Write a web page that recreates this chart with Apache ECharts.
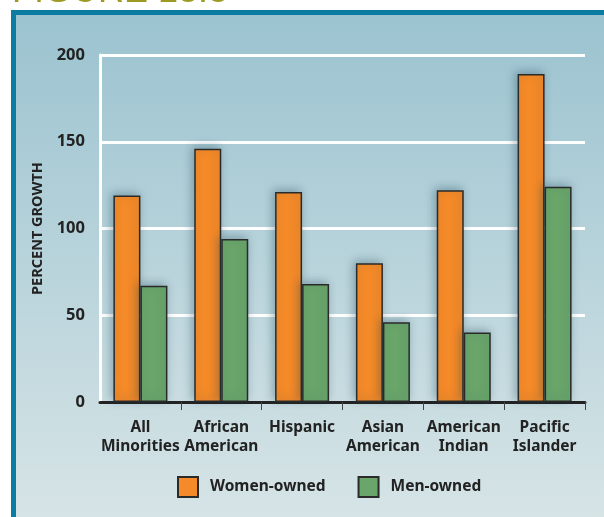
<!DOCTYPE html>
<html>
<head>
<meta charset="utf-8">
<script src="https://cdn.jsdelivr.net/npm/echarts@6/dist/echarts.min.js"></script>
<style>html,body{margin:0;padding:0;background:#fff;}#c{width:604px;height:517px;}</style>
</head>
<body>
<div id="c"></div>
<script>
const categories = ['All\nMinorities', 'African\nAmerican', 'Hispanic', 'Asian\nAmerican', 'American\nIndian', 'Pacific\nIslander'];
const womenOwned = [119, 146, 121, 80, 122, 189];
const menOwned = [67, 94, 68, 46, 40, 124];
const yTicks = { min: 0, max: 200, interval: 50 };

const chart = echarts.init(document.getElementById('c'), null, { renderer: 'canvas' });
const FONT = 'Noto Sans';
const barShadow = { shadowBlur: 10, shadowColor: 'rgba(20,60,80,0.35)', shadowOffsetX: -2, shadowOffsetY: -2 };
chart.setOption({
  animation: false,
  backgroundColor: '#ffffff',
  graphic: [
    { type: 'rect', z: -10, silent: true, shape: { x: 11, y: 15, width: 593, height: 502 },
      style: { fill: new echarts.graphic.LinearGradient(0, 0, 0, 1, [
        { offset: 0, color: '#9bc3d0' }, { offset: 1, color: '#d6e4e6' }]) } },
    { type: 'rect', z: -9, silent: true, shape: { x: 11, y: 10, width: 593, height: 5 }, style: { fill: '#0d7ca3' } },
    { type: 'rect', z: -9, silent: true, shape: { x: 11, y: 10, width: 5, height: 507 }, style: { fill: '#0d7ca3' } },
    { type: 'text', z: -8, silent: true, x: 12, y: -8,
      style: { text: 'FIGURE 13.3', font: '36px "Liberation Sans"', fill: '#9c9a22', verticalAlign: 'middle' } }
  ],
  grid: { left: 100, right: 19, top: 55, bottom: 115, containLabel: false },
  legend: {
    data: ['Women-owned', 'Men-owned'],
    left: 172, top: 471,
    icon: 'rect',
    itemWidth: 20, itemHeight: 20, itemGap: 32,
    textStyle: { fontFamily: FONT, fontWeight: 'bold', fontSize: 15.5, color: '#222', padding: [0, 0, 0, 7] }
  },
  xAxis: {
    type: 'category',
    data: categories,
    axisLine: { lineStyle: { color: '#222', width: 3 } },
    axisTick: { show: true, length: 8, lineStyle: { color: '#444', width: 1 },
      interval: function (i) { return i > 0; } },
    axisLabel: { fontFamily: FONT, fontWeight: 'bold', fontSize: 15.5, color: '#222', lineHeight: 19, margin: 16, interval: 0 }
  },
  yAxis: {
    type: 'value',
    min: yTicks.min, max: yTicks.max, interval: yTicks.interval,
    name: 'PERCENT GROWTH',
    nameLocation: 'middle',
    nameGap: 55,
    nameTextStyle: { fontFamily: FONT, fontWeight: 'bold', fontSize: 14.5, color: '#222' },
    axisLine: { show: true, lineStyle: { color: '#ffffff', width: 3 } },
    axisTick: { show: false },
    axisLabel: { fontFamily: FONT, fontWeight: 'bold', fontSize: 16.5, color: '#222', margin: 15 },
    splitLine: { lineStyle: { color: '#ffffff', width: 3 } }
  },
  series: [
    { name: 'Women-owned', type: 'bar', data: womenOwned, barWidth: 27, barGap: '0%',
      itemStyle: Object.assign({ color: '#f58a28', borderColor: '#2a2a2a', borderWidth: 1.5 }, barShadow) },
    { name: 'Men-owned', type: 'bar', data: menOwned, barWidth: 27, barGap: '0%',
      itemStyle: Object.assign({ color: '#6aa66a', borderColor: '#2a2a2a', borderWidth: 1.5 }, barShadow) }
  ]
});
</script>
</body>
</html>
